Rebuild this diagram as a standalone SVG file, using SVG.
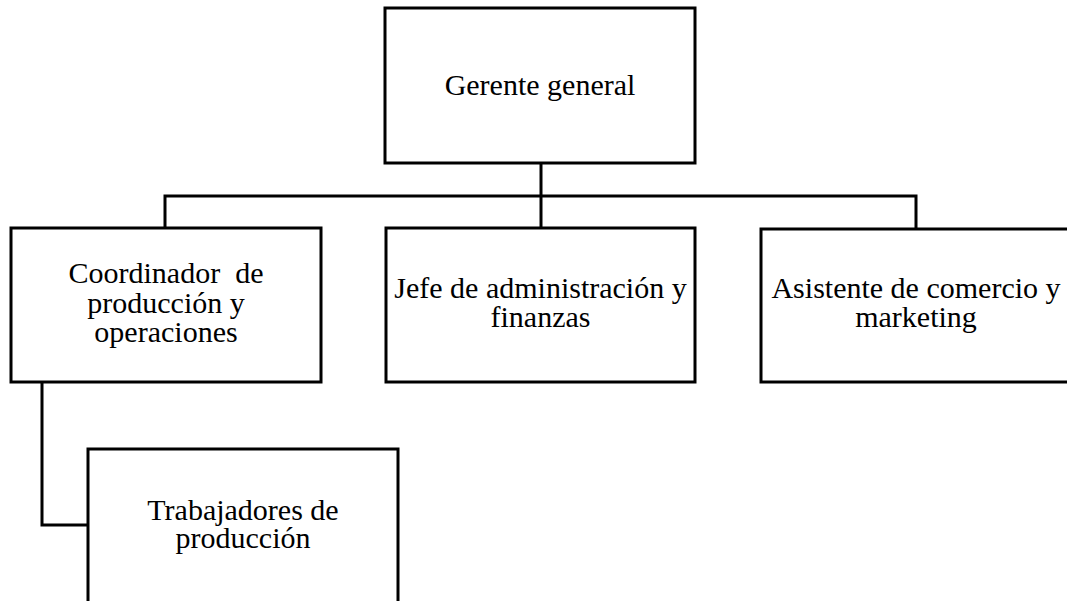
<svg xmlns="http://www.w3.org/2000/svg" width="1067" height="601" viewBox="0 0 1067 601">
<style>
.box{fill:#ffffff;stroke:#000000;stroke-width:3;stroke-linejoin:miter}
.ln{fill:none;stroke:#000000;stroke-width:3}
text{font-family:"Liberation Serif","Times New Roman",serif;font-size:30px;fill:#000000;text-anchor:middle}
</style>
<rect width="1067" height="601" fill="#ffffff"/>
<g id="connectors">
<line class="ln" x1="541" y1="163" x2="541" y2="228"/>
<polyline class="ln" points="165,228 165,196 916,196 916,229"/>
<polyline class="ln" points="42,382 42,525 88,525"/>
</g>
<g id="gerente">
<rect class="box" x="385" y="8" width="310" height="155"/>
<text x="540" y="95">Gerente general</text>
</g>
<g id="coordinador">
<rect class="box" x="11" y="228" width="310" height="154"/>
<text x="166" y="283" xml:space="preserve">Coordinador  de</text>
<text x="166" y="313">producción y</text>
<text x="166" y="342">operaciones</text>
</g>
<g id="jefe">
<rect class="box" x="386" y="228" width="309" height="154"/>
<text x="540.5" y="298">Jefe de administración y</text>
<text x="540.5" y="327">finanzas</text>
</g>
<g id="asistente">
<rect class="box" x="761" y="229" width="310" height="153"/>
<text x="916" y="298">Asistente de comercio y</text>
<text x="916" y="327">marketing</text>
</g>
<g id="trabajadores">
<rect class="box" x="88" y="449" width="310" height="160"/>
<text x="243" y="520">Trabajadores de</text>
<text x="243" y="548">producción</text>
</g>
</svg>
